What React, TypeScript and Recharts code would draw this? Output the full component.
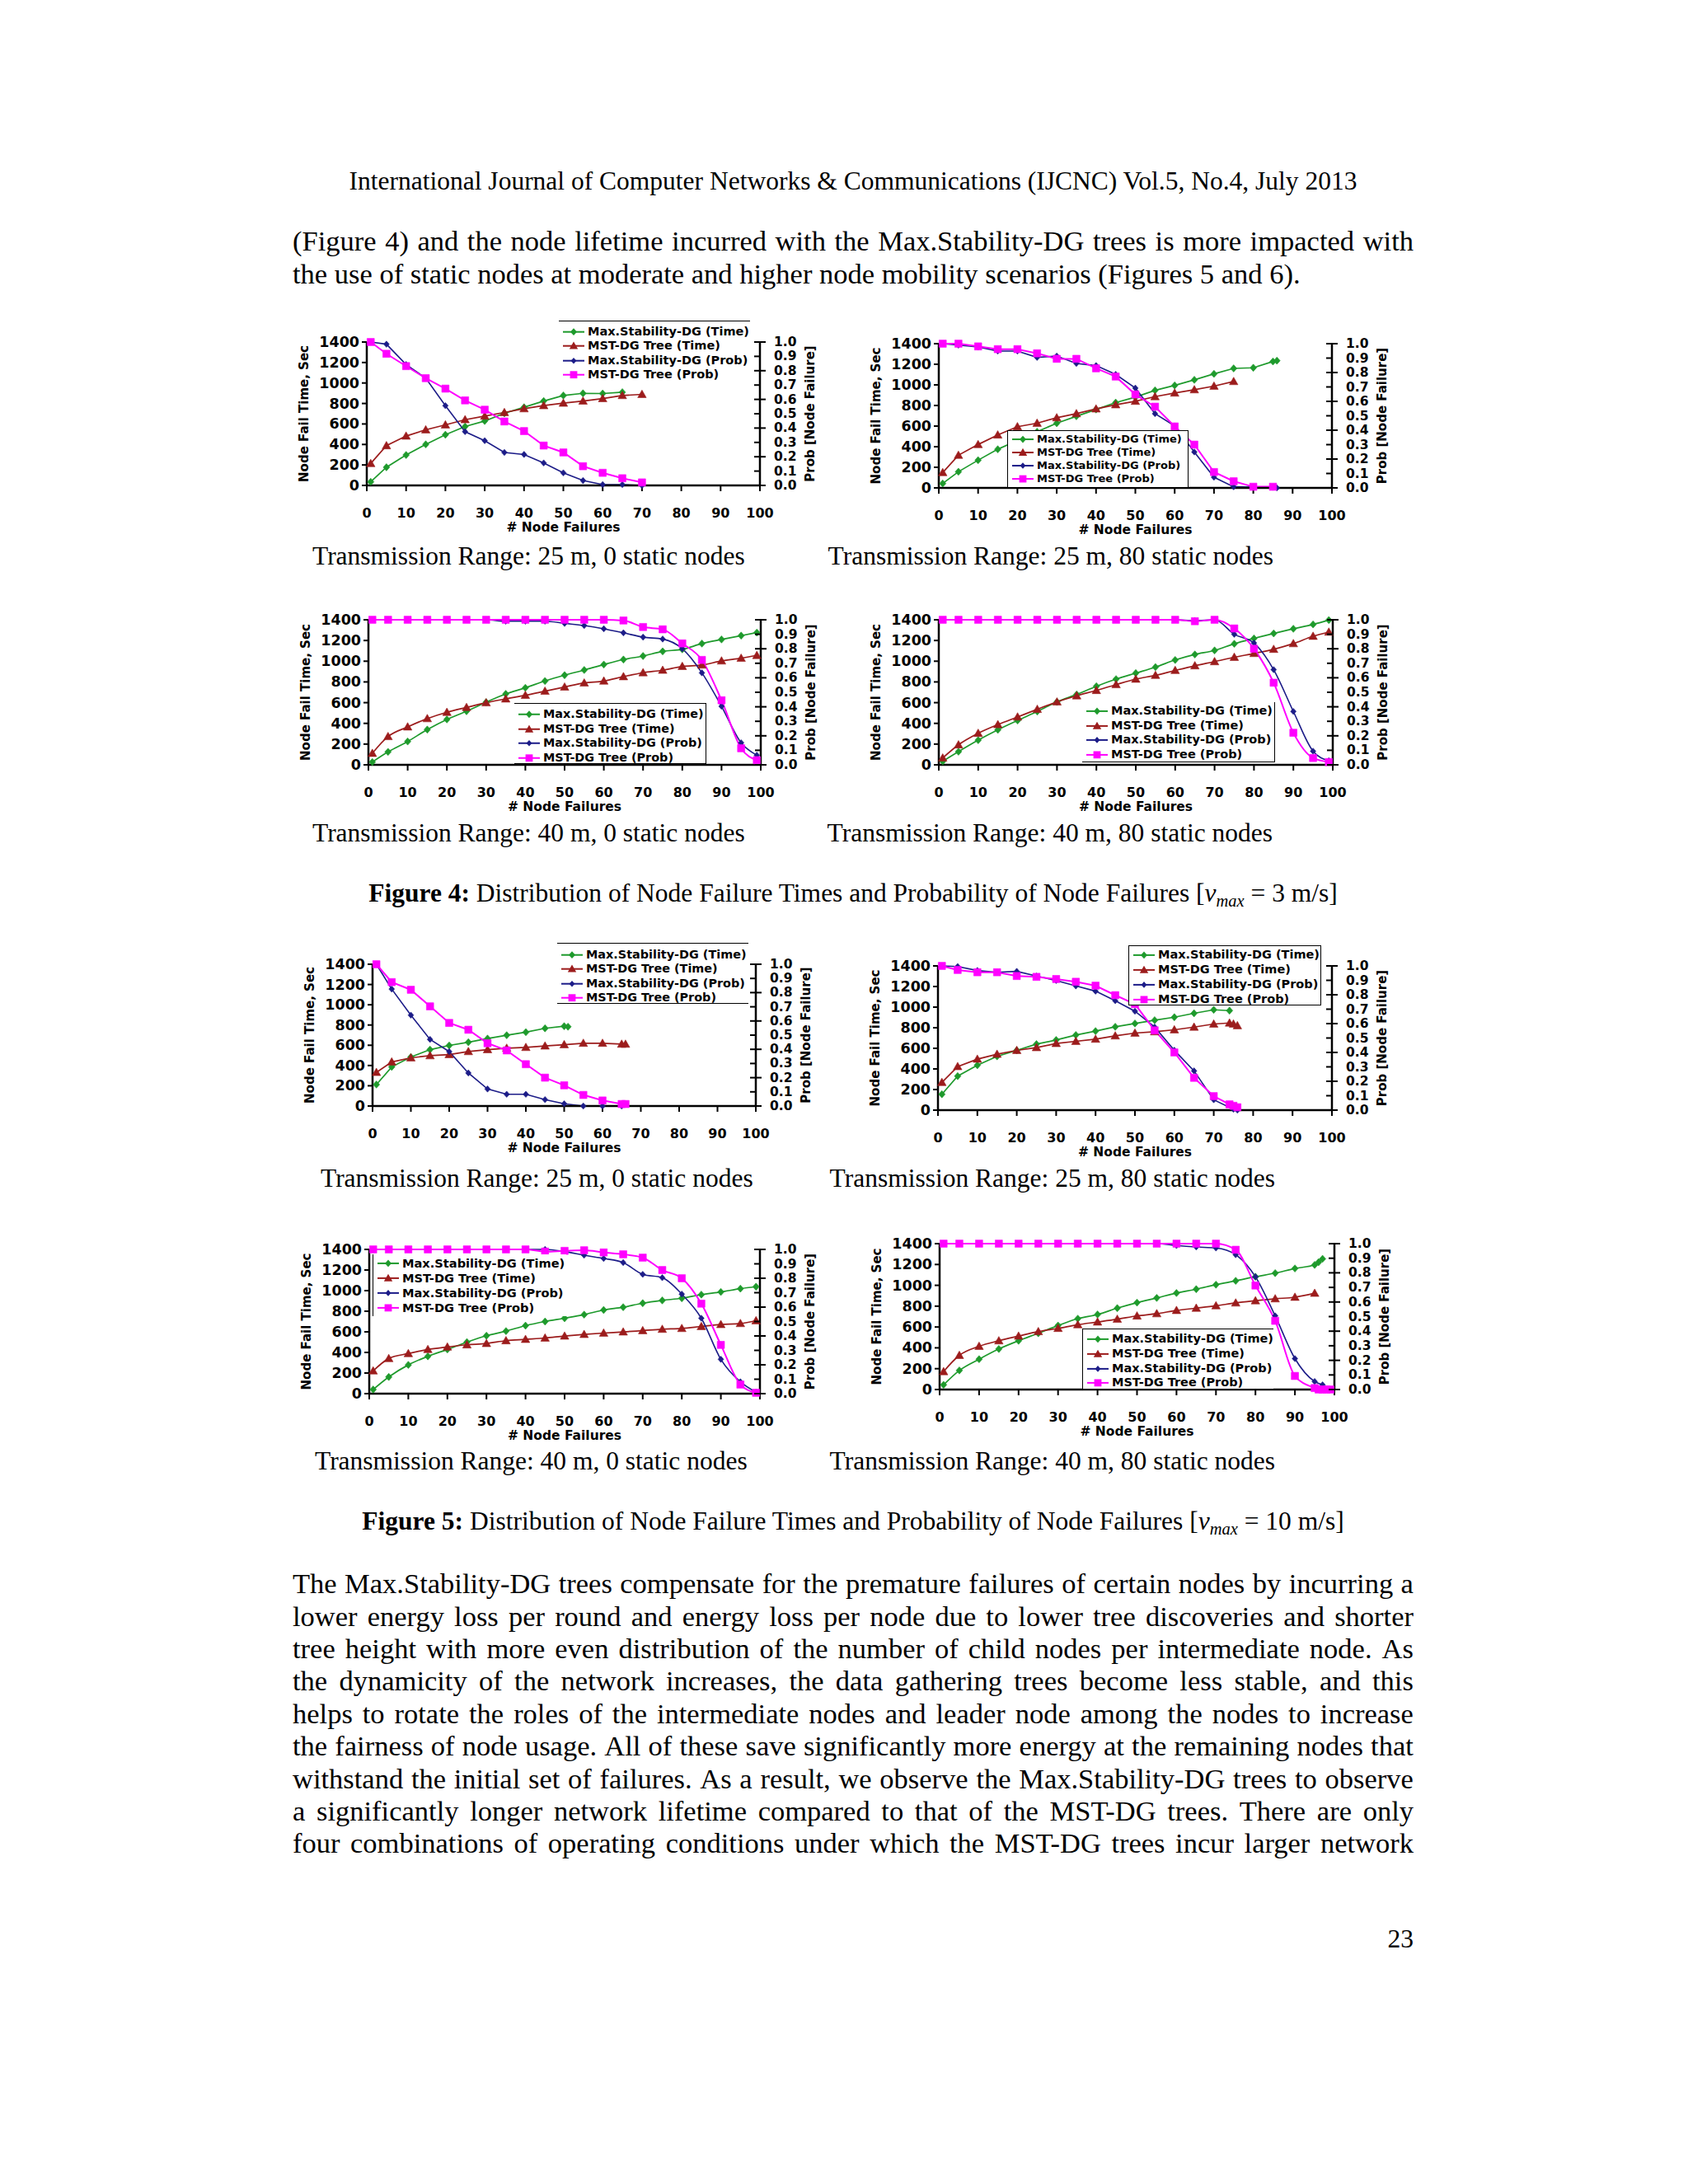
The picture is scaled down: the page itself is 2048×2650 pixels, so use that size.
import React from 'react';
import { LineChart, Line, XAxis, YAxis, Legend } from 'recharts';

// ---------- axis ticks & names ----------
const X_TICKS = [0, 10, 20, 30, 40, 50, 60, 70, 80, 90, 100];
const TIME_TICKS = [0, 200, 400, 600, 800, 1000, 1200, 1400];
const PROB_TICKS = [0, 0.1, 0.2, 0.3, 0.4, 0.5, 0.6, 0.7, 0.8, 0.9, 1.0];
const SERIES_NAMES = ['Max.Stability-DG (Time)', 'MST-DG Tree (Time)', 'Max.Stability-DG (Prob)', 'MST-DG Tree (Prob)'];

// ---------- x positions (# node failures) ----------
const X50p = [1, 5, 10, 15, 20, 25, 30, 35, 40, 45, 50, 51];
const X65 = [1, 5, 10, 15, 20, 25, 30, 35, 40, 45, 50, 55, 60, 65];
const X66 = [1, 5, 10, 15, 20, 25, 30, 35, 40, 45, 50, 55, 60, 65, 66];
const X70 = [1, 5, 10, 15, 20, 25, 30, 35, 40, 45, 50, 55, 60, 65, 70];
const X74 = [1, 5, 10, 15, 20, 25, 30, 35, 40, 45, 50, 55, 60, 65, 70, 74];
const X75 = [1, 5, 10, 15, 20, 25, 30, 35, 40, 45, 50, 55, 60, 65, 70, 75];
const X76a = [1, 5, 10, 15, 20, 25, 30, 35, 40, 45, 50, 55, 60, 65, 70, 74, 75, 76];
const X76b = [1, 5, 10, 15, 20, 25, 30, 35, 40, 45, 50, 55, 60, 65, 70, 75, 76];
const X85 = [1, 5, 10, 15, 20, 25, 30, 35, 40, 45, 50, 55, 60, 65, 70, 75, 80, 85];
const X86 = [1, 5, 10, 15, 20, 25, 30, 35, 40, 45, 50, 55, 60, 65, 70, 75, 80, 85, 86];
const X95 = [1, 5, 10, 15, 20, 25, 30, 35, 40, 45, 50, 55, 60, 65, 70, 75, 80, 85, 90, 95];
const X97a = [1, 5, 10, 15, 20, 25, 30, 35, 40, 45, 50, 55, 60, 65, 70, 75, 80, 85, 90, 95, 96, 97];
const X97b = [1, 5, 10, 15, 20, 25, 30, 35, 40, 45, 50, 55, 60, 65, 70, 75, 80, 85, 90, 95, 97];
const X99 = [1, 5, 10, 15, 20, 25, 30, 35, 40, 45, 50, 55, 60, 65, 70, 75, 80, 85, 90, 95, 99];
const X99b = [1, 5, 10, 15, 20, 25, 30, 35, 40, 45, 50, 55, 60, 65, 70, 75, 80, 85, 90, 95, 96, 97, 98, 99];

// ---------- Figure 4 (vmax = 3 m/s) ----------
// (a) 25 m, 0 static
const f4a_msTime = [35, 177, 297, 401, 495, 575, 629, 704, 763, 824, 878, 899, 897, 910];
const f4a_mstTime = [214, 388, 482, 543, 591, 642, 677, 712, 749, 779, 803, 824, 848, 878, 889];
const f4a_msProb = [1.0, 0.985, 0.843, 0.748, 0.556, 0.375, 0.312, 0.23, 0.216, 0.157, 0.088, 0.034, 0.006, 0.006, 0.0];
const f4a_mstProb = [1.0, 0.918, 0.832, 0.748, 0.675, 0.593, 0.528, 0.446, 0.379, 0.278, 0.23, 0.134, 0.088, 0.05, 0.021];
// (b) 25 m, 80 static
const f4b_msTime = [43, 157, 269, 375, 460, 545, 628, 695, 761, 828, 881, 947, 995, 1049, 1107, 1160, 1166, 1227, 1235];
const f4b_mstTime = [149, 317, 421, 514, 594, 628, 681, 721, 767, 807, 841, 886, 921, 953, 988, 1033];
const f4b_msProb = [1.0, 0.99, 0.977, 0.949, 0.949, 0.905, 0.914, 0.863, 0.848, 0.787, 0.692, 0.515, 0.43, 0.249, 0.074, 0.008, 0.006, 0.004, 0.0];
const f4b_mstProb = [1.0, 1.0, 0.981, 0.962, 0.962, 0.933, 0.895, 0.895, 0.829, 0.772, 0.648, 0.563, 0.426, 0.3, 0.11, 0.046, 0.008, 0.008];
// (c) 40 m, 0 static
const f4c_msTime = [27, 125, 225, 340, 438, 517, 604, 684, 743, 809, 865, 915, 968, 1016, 1050, 1095, 1114, 1170, 1210, 1247, 1276];
const f4c_mstTime = [111, 273, 366, 446, 507, 554, 599, 636, 671, 711, 751, 790, 809, 851, 889, 913, 950, 963, 1003, 1029, 1056];
const f4c_msProb = [1, 1, 1, 1, 1, 1, 1, 0.99, 0.99, 0.99, 0.975, 0.96, 0.938, 0.91, 0.88, 0.867, 0.8, 0.634, 0.403, 0.152, 0.066];
const f4c_mstProb = [1, 1, 1, 1, 1, 1, 1, 1, 1, 1, 1, 1, 1, 0.995, 0.95, 0.934, 0.837, 0.723, 0.445, 0.114, 0.032];
// (d) 40 m, 80 static
const f4d_msTime = [34, 127, 238, 338, 428, 515, 607, 679, 758, 827, 885, 943, 1012, 1065, 1104, 1168, 1220, 1268, 1313, 1355, 1397];
const f4d_mstTime = [66, 193, 304, 388, 462, 536, 607, 666, 718, 774, 827, 864, 911, 956, 996, 1038, 1075, 1115, 1170, 1241, 1281];
const f4d_msProb = [1, 1, 1, 1, 1, 1, 1, 1, 1, 1, 1, 1, 1, 0.993, 1.0, 0.9, 0.84, 0.656, 0.368, 0.094, 0.028];
const f4d_mstProb = [1, 1, 1, 1, 1, 1, 1, 1, 1, 1, 1, 1, 1, 0.99, 1.0, 0.94, 0.8, 0.566, 0.221, 0.047, 0.019];

// ---------- Figure 5 (vmax = 10 m/s) ----------
// (a) 25 m, 0 static
const f5a_msTime = [212, 386, 484, 557, 598, 630, 666, 699, 729, 767, 788, 783];
const f5a_mstTime = [332, 435, 476, 497, 508, 538, 557, 571, 579, 593, 606, 620, 620, 611, 611];
const f5a_msProb = [1.0, 0.825, 0.641, 0.47, 0.384, 0.233, 0.12, 0.083, 0.083, 0.045, 0.016, 0.0, 0.0, 0.0];
const f5a_mstProb = [1.0, 0.874, 0.82, 0.703, 0.586, 0.538, 0.443, 0.392, 0.295, 0.2, 0.146, 0.078, 0.039, 0.014, 0.014];
// (b) 25 m, 80 static
const f5b_msTime = [154, 330, 436, 522, 580, 641, 681, 729, 767, 809, 841, 873, 902, 940, 974, 966];
const f5b_mstTime = [269, 423, 495, 543, 580, 607, 647, 668, 689, 721, 748, 761, 780, 806, 836, 846, 836, 820];
const f5b_msProb = [1.0, 0.996, 0.968, 0.956, 0.962, 0.93, 0.899, 0.861, 0.825, 0.759, 0.686, 0.576, 0.415, 0.272, 0.072, 0.006, 0.0];
const f5b_mstProb = [1.0, 0.972, 0.956, 0.956, 0.93, 0.924, 0.909, 0.89, 0.863, 0.797, 0.735, 0.553, 0.4, 0.224, 0.097, 0.04, 0.03, 0.02];
// (c) 40 m, 0 static
const f5c_msTime = [40, 162, 279, 362, 429, 500, 562, 607, 660, 700, 732, 767, 812, 839, 878, 905, 926, 961, 987, 1019, 1038];
const f5c_mstTime = [221, 341, 389, 429, 453, 474, 487, 514, 527, 540, 559, 575, 588, 599, 612, 625, 633, 652, 671, 681, 708];
const f5c_msProb = [1, 1, 1, 1, 1, 1, 1, 1, 1, 1, 0.985, 0.96, 0.937, 0.909, 0.827, 0.804, 0.69, 0.523, 0.238, 0.082, 0.01];
const f5c_mstProb = [1, 1, 1, 1, 1, 1, 1, 1, 1, 0.985, 0.99, 0.994, 0.979, 0.966, 0.943, 0.857, 0.8, 0.624, 0.338, 0.063, 0.006];
// (d) 40 m, 80 static
const f5d_msTime = [45, 183, 291, 389, 468, 540, 614, 680, 720, 781, 834, 879, 926, 963, 1006, 1043, 1082, 1117, 1162, 1196, 1222, 1254];
const f5d_mstTime = [172, 328, 415, 468, 513, 556, 587, 622, 648, 675, 706, 728, 759, 781, 804, 831, 852, 871, 886, 924];
const f5d_msProb = [1, 1, 1, 1, 1, 1, 1, 1, 1, 1, 1, 1, 0.987, 0.977, 0.97, 0.924, 0.773, 0.505, 0.212, 0.055, 0.032];
const f5d_mstProb = [1, 1, 1, 1, 1, 1, 1, 1, 1, 1, 1, 1, 1, 1, 1, 0.958, 0.713, 0.471, 0.093, 0.01, 0, 0, 0, 0];

// ---------- styles ----------
const GREEN = '#1e9a2c';
const RED = '#9c1c1c';
const NAVY = '#1c1c88';
const MAGENTA = '#ff00ff';
const CHART_FONT = '"DejaVu Sans", Verdana, sans-serif';
const SERIF = '"Liberation Serif", "Times New Roman", Times, serif';

type Marker = 'diamond' | 'triangle' | 'square';
const STYLES: { color: string; marker: Marker; size: number; width: number }[] = [
  { color: GREEN, marker: 'diamond', size: 4.4, width: 1.7 },
  { color: RED, marker: 'triangle', size: 5.2, width: 1.7 },
  { color: NAVY, marker: 'diamond', size: 3.8, width: 1.6 },
  { color: MAGENTA, marker: 'square', size: 4.4, width: 2 },
];

function markerPath(kind: Marker, cx: number, cy: number, s: number): string {
  if (kind === 'diamond') return `M${cx},${cy - s}L${cx + s * 0.9},${cy}L${cx},${cy + s}L${cx - s * 0.9},${cy}Z`;
  if (kind === 'triangle') return `M${cx},${cy - s}L${cx + s},${cy + s * 0.75}L${cx - s},${cy + s * 0.75}Z`;
  return `M${cx - s},${cy - s}h${2 * s}v${2 * s}h${-2 * s}Z`;
}

const makeDot = (i: number) => (p: any) => {
  const st = STYLES[i];
  if (p.cx == null || p.cy == null) return <g key={`e${p.index}`} />;
  return <path key={`m${i}-${p.index}`} d={markerPath(st.marker, p.cx, p.cy, st.size)} fill={st.color} stroke={st.color} strokeWidth={0.6} />;
};

const pts = (xs: number[], ys: number[]) => xs.map((x, i) => ({ x, y: ys[i] }));

type Border = 'top' | 'right' | 'bottom' | 'left';
type Spec = {
  pl: number; pr: number; pt: number; pb: number;
  curve: 'linear' | 'monotone';
  series: [number[], number[]][];
  lg: { x: number; y: number; w: number; h: number; rowH: number; pad: number; fs: number; borders: Border[] };
};

const CHARTS: Spec[] = [
  { pl: 445, pr: 922, pt: 415, pb: 589, curve: 'linear',
    series: [[X65, f4a_msTime], [X70, f4a_mstTime], [X70, f4a_msProb], [X70, f4a_mstProb]],
    lg: { x: 678, y: 389, w: 232, h: 74, rowH: 17.4, pad: 4, fs: 14.5, borders: ['top'] } },
  { pl: 1139, pr: 1616, pt: 417, pb: 592, curve: 'linear',
    series: [[X86, f4b_msTime], [X75, f4b_mstTime], [X86, f4b_msProb], [X85, f4b_mstProb]],
    lg: { x: 1222, y: 522, w: 220, h: 70, rowH: 16.1, pad: 1.6, fs: 13, borders: ['top', 'right', 'bottom', 'left'] } },
  { pl: 447, pr: 923, pt: 752, pb: 928, curve: 'monotone',
    series: [[X99, f4c_msTime], [X99, f4c_mstTime], [X99, f4c_msProb], [X99, f4c_mstProb]],
    lg: { x: 624, y: 853, w: 233, h: 74, rowH: 17.5, pad: 4, fs: 14.4, borders: ['top', 'right', 'bottom'] } },
  { pl: 1139, pr: 1617, pt: 752, pb: 928, curve: 'monotone',
    series: [[X99, f4d_msTime], [X99, f4d_mstTime], [X99, f4d_msProb], [X99, f4d_mstProb]],
    lg: { x: 1313, y: 852, w: 234, h: 73, rowH: 17.8, pad: 1.8, fs: 14.5, borders: ['right', 'bottom'] } },
  { pl: 452, pr: 917, pt: 1170, pb: 1342, curve: 'linear',
    series: [[X50p, f5a_msTime], [X66, f5a_mstTime], [X65, f5a_msProb], [X66, f5a_mstProb]],
    lg: { x: 676, y: 1144, w: 232, h: 74, rowH: 17.4, pad: 5, fs: 14.4, borders: ['top', 'bottom'] } },
  { pl: 1138, pr: 1616, pt: 1172, pb: 1347, curve: 'linear',
    series: [[X74, f5b_msTime], [X76a, f5b_mstTime], [X76b, f5b_msProb], [X76a, f5b_mstProb]],
    lg: { x: 1369, y: 1147, w: 234, h: 73, rowH: 17.8, pad: 2.4, fs: 14.5, borders: ['top', 'right', 'bottom', 'left'] } },
  { pl: 448, pr: 922, pt: 1516, pb: 1691, curve: 'monotone',
    series: [[X99, f5c_msTime], [X99, f5c_mstTime], [X99, f5c_msProb], [X99, f5c_mstProb]],
    lg: { x: 452, y: 1522, w: 235, h: 75, rowH: 17.8, pad: 2.4, fs: 14.6, borders: ['left'] } },
  { pl: 1140, pr: 1619, pt: 1509, pb: 1686, curve: 'monotone',
    series: [[X97a, f5d_msTime], [X95, f5d_mstTime], [X97b, f5d_msProb], [X99b, f5d_mstProb]],
    lg: { x: 1313, y: 1612, w: 232, h: 73, rowH: 17.8, pad: 3.1, fs: 14.5, borders: ['top', 'left'] } },
];

const ML = 100, MR = 90, MT = 45, MB = 65;

function LegendBox({ lg }: { lg: Spec['lg'] }) {
  const b = (side: Border) => (lg.borders.includes(side) ? '1.8px solid #000' : 'none');
  return (
    <div style={{
      boxSizing: 'border-box', width: lg.w, height: lg.h, background: '#fff',
      borderTop: b('top'), borderRight: b('right'), borderBottom: b('bottom'), borderLeft: b('left'),
      paddingTop: lg.pad, fontFamily: CHART_FONT, fontWeight: 'bold', fontSize: lg.fs, color: '#000',
    }}>
      {SERIES_NAMES.map((name, i) => {
        const st = STYLES[i];
        const my = lg.rowH / 2;
        return (
          <div key={name} style={{ display: 'flex', alignItems: 'center', height: lg.rowH, lineHeight: `${lg.rowH}px`, whiteSpace: 'nowrap' }}>
            <svg width={35} height={lg.rowH} style={{ flex: 'none' }}>
              <line x1={5} x2={31} y1={my} y2={my} stroke={st.color} strokeWidth={2} />
              <path d={markerPath(st.marker, 18, my, st.size)} fill={st.color} />
            </svg>
            <span>{name}</span>
          </div>
        );
      })}
    </div>
  );
}

function Panel({ spec }: { spec: Spec }) {
  const plotW = spec.pr - spec.pl;
  const plotH = spec.pb - spec.pt;
  const W = plotW + ML + MR;
  const H = plotH + MT + MB;
  const left = spec.pl - ML;
  const top = spec.pt - MT;
  const axR = W - MR;
  const plotB = H - MB;
  const midY = MT + plotH / 2;
  const midX = ML + plotW / 2;
  const txt = { fontFamily: CHART_FONT, fontWeight: 'bold' as const, fill: '#000' };
  return (
    <div style={{ position: 'absolute', left, top, width: W, height: H }}>
      <LineChart width={W} height={H} margin={{ top: MT, right: 0, bottom: 0, left: 0 }}>
        <XAxis
          dataKey="x" type="number" domain={[0, 100]} ticks={X_TICKS} interval={0} height={MB}
          axisLine={{ stroke: '#000', strokeWidth: 2.5 }} tickLine={{ stroke: '#000', strokeWidth: 2 }} tickSize={7}
          tick={(p: any) => (
            <text x={p.x} y={plotB + 33} textAnchor="middle" dominantBaseline="central" fontSize={16} {...txt}>{p.payload.value}</text>
          )}
          label={() => (
            <text x={midX} y={plotB + 56} textAnchor="middle" fontSize={15.5} {...txt}># Node Failures</text>
          )}
        />
        <YAxis
          yAxisId="left" orientation="left" width={ML} domain={[0, 1400]} ticks={TIME_TICKS} interval={0}
          axisLine={{ stroke: '#000', strokeWidth: 2.5 }} tickLine={{ stroke: '#000', strokeWidth: 2 }} tickSize={6}
          tick={(p: any) => (
            <text x={ML - 9} y={p.y} textAnchor="end" dominantBaseline="central" fontSize={17.5} {...txt}>{p.payload.value}</text>
          )}
          label={() => (
            <text x={24} y={midY} transform={`rotate(-90, 24, ${midY})`} textAnchor="middle" dominantBaseline="central" fontSize={15} {...txt}>Node Fail Time, Sec</text>
          )}
        />
        <YAxis
          yAxisId="right" orientation="right" width={MR} domain={[0, 1]} ticks={PROB_TICKS} interval={0}
          axisLine={{ stroke: '#000', strokeWidth: 2.5 }} tickLine={false}
          tick={(p: any) => {
            const v = Number(p.payload.value);
            const major = Math.round(v * 10) % 2 === 0;
            return (
              <g>
                <line x1={axR - 7} x2={major ? axR + 7 : axR} y1={p.y} y2={p.y} stroke="#000" strokeWidth={2} />
                <text x={axR + 17} y={p.y} dominantBaseline="central" fontSize={15.5} {...txt}>{v.toFixed(1)}</text>
              </g>
            );
          }}
          label={() => (
            <text x={axR + 61} y={midY} transform={`rotate(-90, ${axR + 61}, ${midY})`} textAnchor="middle" dominantBaseline="central" fontSize={15} {...txt}>Prob [Node Failure]</text>
          )}
        />
        <Legend
          layout="vertical" align="center" verticalAlign="middle"
          wrapperStyle={{ left: spec.lg.x - left, top: spec.lg.y - top, width: spec.lg.w, height: spec.lg.h }}
          content={() => <LegendBox lg={spec.lg} />}
        />
        {spec.series.map(([xs, ys], i) => (
          <Line
            key={SERIES_NAMES[i]}
            name={SERIES_NAMES[i]}
            yAxisId={i < 2 ? 'left' : 'right'}
            data={pts(xs, ys)}
            dataKey="y"
            type={spec.curve}
            stroke={STYLES[i].color}
            strokeWidth={STYLES[i].width}
            dot={makeDot(i)}
            activeDot={false}
            isAnimationActive={false}
          />
        ))}
      </LineChart>
    </div>
  );
}

// ---------- page text ----------
const HEADER = 'International Journal of Computer Networks & Communications (IJCNC) Vol.5, No.4, July 2013';
const PARA1 = [
  '(Figure 4) and the node lifetime incurred with the Max.Stability-DG trees is more impacted with',
  'the use of static nodes at moderate and higher node mobility scenarios (Figures 5 and 6).',
];
const PARA2 = [
  'The Max.Stability-DG trees compensate for the premature failures of certain nodes by incurring a',
  'lower energy loss per round and energy loss per node due to lower tree discoveries and shorter',
  'tree height with more even distribution of the number of child nodes per intermediate node. As',
  'the dynamicity of the network increases, the data gathering trees become less stable, and this',
  'helps to rotate the roles of the intermediate nodes and leader node among the nodes to increase',
  'the fairness of node usage. All of these save significantly more energy at the remaining nodes that',
  'withstand the initial set of failures. As a result, we observe the Max.Stability-DG trees to observe',
  'a significantly longer network lifetime compared to that of the MST-DG trees. There are only',
  'four combinations of operating conditions under which the MST-DG trees incur larger network',
];
const SUBCAPTIONS = [
  'Transmission Range: 25 m, 0 static nodes', 'Transmission Range: 25 m, 80 static nodes',
  'Transmission Range: 40 m, 0 static nodes', 'Transmission Range: 40 m, 80 static nodes',
];

const TEXT_L = 355;
const TEXT_W = 1360;
const BODY_FS = 34.5;
const CAP_FS = 31.5;

function TLine(props: { left: number; width: number; baseline: number; fs: number; align: 'left' | 'right' | 'center'; children: React.ReactNode }) {
  const { left, width, baseline, fs, align, children } = props;
  return (
    <div style={{
      position: 'absolute', left, top: baseline - 0.8375 * fs, width, fontSize: fs, lineHeight: `${fs}px`,
      fontFamily: SERIF, color: '#000', whiteSpace: 'nowrap', textAlign: align,
    }}>{children}</div>
  );
}

// justified line: words spread (or squeezed) to fill the full text width
function JLine({ baseline, text }: { baseline: number; text: string }) {
  const words = text.split(' ');
  return (
    <div style={{
      position: 'absolute', left: TEXT_L, top: baseline - 0.8375 * BODY_FS, width: TEXT_W, height: BODY_FS,
      display: 'flex', justifyContent: 'space-between', fontSize: BODY_FS, lineHeight: `${BODY_FS}px`,
      fontFamily: SERIF, color: '#000',
    }}>
      {words.map((w, i) => (
        <span key={i} style={{ whiteSpace: 'pre', minWidth: 0, flexShrink: 1 }}>{w}</span>
      ))}
    </div>
  );
}

function Vmax() {
  return (
    <span><i>v</i><i style={{ fontSize: '0.65em', position: 'relative', top: '0.3em' }}>max</i></span>
  );
}

function SubCap({ text, baseline, leftStart, rightEnd }: { text: string; baseline: number; leftStart?: number; rightEnd?: number }) {
  if (leftStart != null) return <TLine left={leftStart} width={660} baseline={baseline} fs={CAP_FS} align="left">{text}</TLine>;
  return <TLine left={(rightEnd as number) - 660} width={660} baseline={baseline} fs={CAP_FS} align="right">{text}</TLine>;
}

export default function App() {
  return (
    <div style={{ position: 'absolute', left: 0, top: 0, width: 2048, height: 2650, background: '#fff', overflow: 'hidden' }}>
      <TLine left={TEXT_L} width={TEXT_W} baseline={230} fs={31.5} align="center">{HEADER}</TLine>
      <JLine baseline={304} text={PARA1[0]} />
      <TLine left={TEXT_L} width={TEXT_W} baseline={343.5} fs={BODY_FS} align="left">{PARA1[1]}</TLine>

      {CHARTS.map((c, i) => <Panel key={i} spec={c} />)}

      <SubCap text={SUBCAPTIONS[0]} baseline={685} leftStart={379} />
      <SubCap text={SUBCAPTIONS[1]} baseline={685} rightEnd={1545} />
      <SubCap text={SUBCAPTIONS[2]} baseline={1021} leftStart={379} />
      <SubCap text={SUBCAPTIONS[3]} baseline={1021} rightEnd={1544} />
      <TLine left={TEXT_L} width={TEXT_W} baseline={1094} fs={31.5} align="center">
        <b>Figure 4:</b> Distribution of Node Failure Times and Probability of Node Failures [<Vmax /> = 3 m/s]
      </TLine>

      <SubCap text={SUBCAPTIONS[0]} baseline={1440} leftStart={389} />
      <SubCap text={SUBCAPTIONS[1]} baseline={1440} rightEnd={1547} />
      <SubCap text={SUBCAPTIONS[2]} baseline={1783} leftStart={382} />
      <SubCap text={SUBCAPTIONS[3]} baseline={1783} rightEnd={1547} />
      <TLine left={TEXT_L} width={TEXT_W} baseline={1856} fs={31.5} align="center">
        <b>Figure 5:</b> Distribution of Node Failure Times and Probability of Node Failures [<Vmax /> = 10 m/s]
      </TLine>

      {PARA2.map((line, i) => (
        <JLine key={i} baseline={1933.3 + i * 39.35} text={line} />
      ))}
      <TLine left={TEXT_L} width={TEXT_W} baseline={2363} fs={31.5} align="right">23</TLine>
    </div>
  );
}
